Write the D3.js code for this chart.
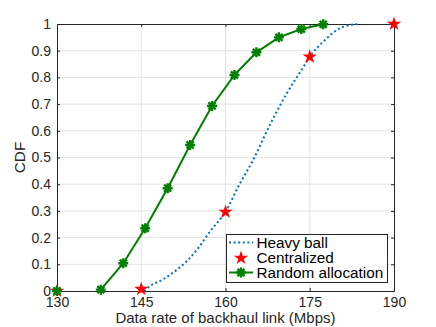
<!DOCTYPE html>
<html>
<head>
<meta charset="utf-8">
<script src="https://cdn.jsdelivr.net/npm/d3@7"></script>
<style>
  body { margin: 0; background: #fff; }
  svg { display: block; font-family: "Liberation Sans", Arial, sans-serif; }
</style>
</head>
<body>
<svg id="chart"></svg>
<script>
// chart data
var heavyX = [145.5, 146.6, 148.9, 151.9, 154.9, 157.2, 160, 162.5, 164.9, 167.9, 170.9, 173.9, 175, 177.4, 180.4, 183.4];
var heavyY = [0, 0.019, 0.044, 0.089, 0.154, 0.222, 0.297, 0.40, 0.49, 0.622, 0.74, 0.84, 0.877, 0.934, 0.984, 1.0];
var centralX = [130, 145, 160, 175, 190];
var centralY = [0, 0.007, 0.296, 0.877, 1.0];
var randomX = [130, 137.8, 141.8, 145.7, 149.7, 153.7, 157.6, 161.6, 165.5, 169.5, 173.5, 177.4];
var randomY = [0, 0.005, 0.104, 0.235, 0.385, 0.547, 0.693, 0.809, 0.894, 0.95, 0.981, 0.999];
var xTicks = [130, 145, 160, 175, 190];
var yTicks = [0, 0.1, 0.2, 0.3, 0.4, 0.5, 0.6, 0.7, 0.8, 0.9, 1];
var legendNames = ["Heavy ball", "Centralized", "Random allocation"];

var width = 436, height = 327;
// plot box (window.top is reserved, so prefixed names)
var pLeft = 57, pRight = 394, pTop = 24, pBottom = 291;
var axisColor = "#262626";
var blue = "#0072bd", red = "#ff0000", green = "#008000";

var svg = d3.select("#chart").attr("width", width).attr("height", height);

var x = d3.scaleLinear().domain([130, 190]).range([pLeft, pRight]);
var y = d3.scaleLinear().domain([0, 1]).range([pBottom, pTop]);

// grid
svg.append("g").selectAll("line").data(xTicks.slice(1, -1)).join("line")
    .attr("x1", d => x(d)).attr("x2", d => x(d))
    .attr("y1", pTop).attr("y2", pBottom)
    .attr("stroke", "#e3e3e3").attr("stroke-width", 1);
svg.append("g").selectAll("line").data(yTicks.slice(1, -1)).join("line")
    .attr("y1", d => y(d)).attr("y2", d => y(d))
    .attr("x1", pLeft).attr("x2", pRight)
    .attr("stroke", "#e3e3e3").attr("stroke-width", 1);

// axes (box with mirrored ticks)
function styleAxis(g){
    g.select(".domain").attr("stroke", axisColor);
    g.selectAll(".tick line").attr("stroke", axisColor);
    g.selectAll("text").attr("fill", axisColor).style("font-size", "14px")
        .style("font-family", "'Liberation Sans', Arial, sans-serif");
}
svg.append("g").attr("transform", "translate(0," + pBottom + ")")
    .call(d3.axisBottom(x).tickValues(xTicks).tickSize(-3).tickPadding(6).tickSizeOuter(0))
    .call(styleAxis);
svg.append("g").attr("transform", "translate(0," + pTop + ")")
    .call(d3.axisTop(x).tickValues(xTicks).tickSize(-3).tickFormat("").tickSizeOuter(0))
    .call(styleAxis);
svg.append("g").attr("transform", "translate(" + pLeft + ",0)")
    .call(d3.axisLeft(y).tickValues(yTicks).tickSize(-3).tickPadding(6).tickSizeOuter(0)
        .tickFormat(d => d === 0 || d === 1 ? d : d3.format(".1f")(d)))
    .call(styleAxis);
svg.append("g").attr("transform", "translate(" + pRight + ",0)")
    .call(d3.axisRight(y).tickValues(yTicks).tickSize(-3).tickFormat("").tickSizeOuter(0))
    .call(styleAxis);

// labels
svg.append("text").attr("x", (pLeft + pRight) / 2).attr("y", 323)
    .attr("text-anchor", "middle").attr("fill", axisColor).style("font-size", "15px")
    .text("Data rate of backhaul link (Mbps)");
svg.append("text").attr("transform", "translate(25," + (pTop + pBottom) / 2 + ") rotate(-90)")
    .attr("text-anchor", "middle").attr("fill", axisColor).style("font-size", "15.3px")
    .text("CDF");

// markers
function starPath(r){
    var pts = [];
    for (var i = 0; i < 10; i++){
        var rr = i % 2 === 0 ? r : r * 0.382;
        var a = -Math.PI / 2 + i * Math.PI / 5;
        pts.push([rr * Math.cos(a), rr * Math.sin(a)]);
    }
    return "M" + pts.map(p => p[0].toFixed(2) + "," + p[1].toFixed(2)).join("L") + "Z";
}
function asteriskPath(r){
    var d = r * Math.SQRT1_2;
    return "M" + (-r) + ",0L" + r + ",0M0," + (-r) + "L0," + r +
        "M" + (-d) + "," + (-d) + "L" + d + "," + d + "M" + (-d) + "," + d + "L" + d + "," + (-d);
}

var heavy = heavyX.map((v, i) => [v, heavyY[i]]);
var central = centralX.map((v, i) => [v, centralY[i]]);
var random = randomX.map((v, i) => [v, randomY[i]]);

// heavy ball: dotted curve
svg.append("path").datum(heavy)
    .attr("d", d3.line().x(d => x(d[0])).y(d => y(d[1])).curve(d3.curveMonotoneX))
    .attr("fill", "none").attr("stroke", blue).attr("stroke-width", 2)
    .attr("stroke-dasharray", "2,2.6");

// random allocation: line with asterisks (line starts at second point)
svg.append("path").datum(random.slice(1))
    .attr("d", d3.line().x(d => x(d[0])).y(d => y(d[1])))
    .attr("fill", "none").attr("stroke", green).attr("stroke-width", 2);

// centralized stars
svg.append("g").selectAll("path").data(central).join("path")
    .attr("transform", d => "translate(" + x(d[0]) + "," + y(d[1]) + ")")
    .attr("d", starPath(7.5)).attr("fill", red);

svg.append("g").selectAll("path").data(random).join("path")
    .attr("transform", d => "translate(" + x(d[0]) + "," + y(d[1]) + ")")
    .attr("d", asteriskPath(5)).attr("fill", "none")
    .attr("stroke", green).attr("stroke-width", 2.4);

// legend
var lg = svg.append("g");
lg.append("rect").attr("x", 226.5).attr("y", 234.5).attr("width", 161).attr("height", 48)
    .attr("fill", "#fff").attr("stroke", axisColor).attr("stroke-width", 1);
var rowY = [242.5, 258, 272.5];
lg.append("line").attr("x1", 229).attr("x2", 253).attr("y1", rowY[0]).attr("y2", rowY[0])
    .attr("stroke", blue).attr("stroke-width", 2).attr("stroke-dasharray", "2,2.6");
lg.append("path").attr("transform", "translate(241," + rowY[1] + ")")
    .attr("d", starPath(7.5)).attr("fill", red);
lg.append("line").attr("x1", 229).attr("x2", 253).attr("y1", rowY[2]).attr("y2", rowY[2])
    .attr("stroke", green).attr("stroke-width", 2);
lg.append("path").attr("transform", "translate(241," + rowY[2] + ")")
    .attr("d", asteriskPath(5)).attr("fill", "none")
    .attr("stroke", green).attr("stroke-width", 2.4);
lg.selectAll("text").data(legendNames).join("text")
    .attr("x", 256.5).attr("y", (d, i) => rowY[i]).attr("dy", "0.35em")
    .attr("fill", "#000").style("font-size", "15.3px")
    .text(d => d);
</script>
</body>
</html>
